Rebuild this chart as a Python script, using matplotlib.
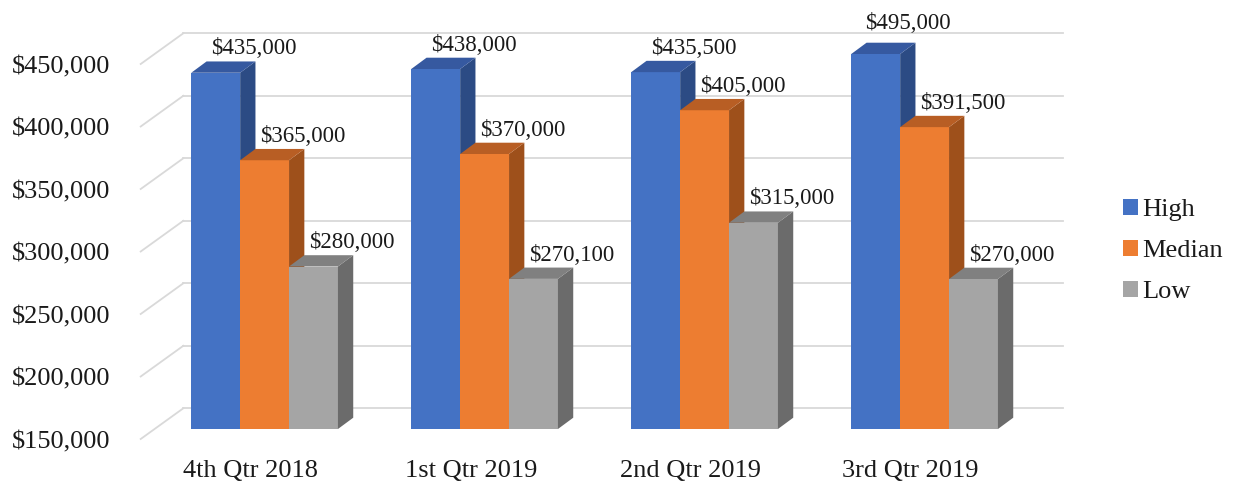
import matplotlib
matplotlib.use("Agg")
import matplotlib.pyplot as plt
from matplotlib.patches import Polygon, Patch
from matplotlib.lines import Line2D
from matplotlib.transforms import IdentityTransform
import numpy as np

# ---------------- data ----------------
categories = ["4th Qtr 2018", "1st Qtr 2019", "2nd Qtr 2019", "3rd Qtr 2019"]
series_names = ["High", "Median", "Low"]
high = [435000, 438000, 435500, 495000]
median = [365000, 370000, 405000, 391500]
low = [280000, 270100, 315000, 270000]
value_ticks = [150000, 200000, 250000, 300000, 350000, 400000, 450000]
tick_labels = ["$150,000", "$200,000", "$250,000", "$300,000",
               "$350,000", "$400,000", "$450,000"]
y_min, y_max = 150000, 450000

# ---------------- style ----------------
front_colors = ["#4472C4", "#ED7D31", "#A5A5A5"]
top_colors = ["#3659A0", "#B85E24", "#808080"]
side_colors = ["#2C4B84", "#9E501B", "#6B6B6B"]
grid_color = "#D9D9D9"
text_color = "#1a1a1a"
FONT = "Liberation Serif"

DPI = 100
W, H = 1233, 483
fig = plt.figure(figsize=(W / DPI, H / DPI), dpi=DPI)
fig.patch.set_facecolor("white")

# axes = the plane of the bars' front faces (pixel geometry from the reference)
left_px, right_px = 154.6, 1034.6
bottom_px, top_px = 429.0, 54.0   # from top of image
ax = fig.add_axes([left_px / W, (H - bottom_px) / H,
                   (right_px - left_px) / W, (bottom_px - top_px) / H])
ax.set_xlim(-0.5, len(categories) - 0.5)
ax.set_ylim(y_min, y_max)
ax.axis("off")

# depth offsets in pixels (display coords, y up)
front_off = np.array([-13.9, -10.0])
back_off = np.array([28.7, 20.7])
bar_depth = np.array([15.3, 11.3])

def disp(x, v):
    return ax.transData.transform((x, v))

ident = IdentityTransform()

# back wall grid lines + left wall diagonals
x0, x1 = ax.get_xlim()
for v in value_ticks:
    pb0 = disp(x0, v) + back_off
    pb1 = disp(x1, v) + back_off
    pf0 = disp(x0, v) + front_off
    ax.add_line(Line2D([pb0[0], pb1[0]], [pb0[1], pb1[1]], color=grid_color,
                       lw=1.3, transform=ident, clip_on=False, zorder=0))
    ax.add_line(Line2D([pf0[0], pb0[0]], [pf0[1], pb0[1]], color=grid_color,
                       lw=1.3, transform=ident, clip_on=False, zorder=0))

# value axis labels on the front plane
for v, lab in zip(value_ticks, tick_labels):
    p = disp(x0, v) + front_off
    ax.text(p[0] - 30.5, p[1] - 9.3, lab, transform=ident, ha="right",
            va="baseline", fontsize=19, family=FONT, color=text_color,
            clip_on=False)

# category labels on the front plane
for i, c in enumerate(categories):
    p = disp(i, y_min) + front_off
    ax.text(p[0], p[1] - 38, c, transform=ident, ha="center", va="baseline",
            fontsize=19, family=FONT, color=text_color, clip_on=False)

# bars
series = [high, median, low]
bw = 1 / 4.5
offsets = [-bw, 0, bw]
z = 2
for i in range(len(categories)):
    for s, vals in enumerate(series):
        v = vals[i]
        vc = min(v, y_max)
        xc = i + offsets[s]
        xl, xr = xc - bw / 2, xc + bw / 2
        ax.bar(xc, vc - y_min, bottom=y_min, width=bw, color=front_colors[s],
               edgecolor="none", linewidth=0, zorder=z)
        br = disp(xr, y_min)
        tr = disp(xr, vc)
        tl = disp(xl, vc)
        side = [br, tr, tr + bar_depth, br + bar_depth]
        top = [tl, tr, tr + bar_depth, tl + bar_depth]
        ax.add_patch(Polygon(side, closed=True, facecolor=side_colors[s],
                             edgecolor="none", transform=ident,
                             clip_on=False, zorder=z))
        ax.add_patch(Polygon(top, closed=True, facecolor=top_colors[s],
                             edgecolor="none", transform=ident,
                             clip_on=False, zorder=z))
        z += 1
        # data label
        pc = disp(xc, vc)
        if v > y_max:
            dx, dy = 32.5, 25.0
        else:
            dx, dy = 38.0, 18.3
        ax.text(pc[0] + dx, pc[1] + dy, "${:,}".format(v), transform=ident,
                ha="center", va="baseline", fontsize=16.5, family=FONT,
                color=text_color, clip_on=False, zorder=100)

# legend
handles = [Patch(facecolor=c, edgecolor="none") for c in front_colors]
fig.legend(handles, series_names, loc="center left",
           bbox_to_anchor=(1122.7 / W, 1 - 251 / H), frameon=False,
           prop={"family": FONT, "size": 19}, handlelength=0.59,
           handleheight=0.59, handletextpad=0.15, labelspacing=0.7,
           borderpad=0, borderaxespad=0, labelcolor=text_color)

fig.savefig("out.png", dpi=DPI, facecolor="white")
